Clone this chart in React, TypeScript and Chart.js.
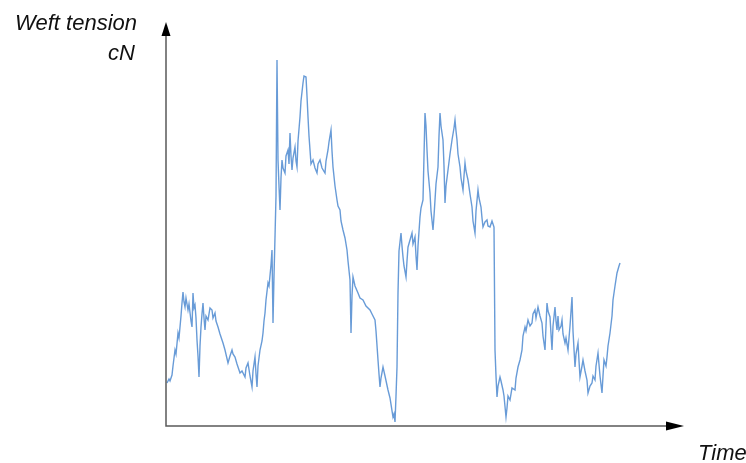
import React, { useEffect, useRef } from "react";
import { Chart, registerables } from "chart.js";

Chart.register(...registerables);

// Time (arbitrary units) and weft tension (arbitrary cN units)
const timeValues: number[] = [
  1, 3, 4, 6, 7, 9, 10, 12, 13, 15,
  16, 17, 18, 19, 20, 22, 23, 25, 26, 27,
  28, 29, 30, 31, 32, 33, 34, 35, 36, 37,
  38, 39, 40, 42, 44, 46, 47, 49, 50, 52,
  54, 57, 59, 62, 64, 66, 67, 69, 71, 74,
  76, 79, 80, 82, 84, 86, 87, 89, 90, 91,
  92, 94, 96, 97, 98, 99, 100, 102, 103, 105,
  106, 107, 108, 109, 110, 111, 112, 113, 114, 115,
  116, 117, 119, 120, 122, 123, 124, 125, 126, 127,
  129, 130, 131, 132, 134, 135, 137, 138, 140, 141,
  142, 143, 144, 145, 147, 149, 151, 152, 154, 156,
  159, 160, 162, 163, 165, 166, 167, 169, 171, 172,
  174, 175, 177, 179, 181, 182, 184, 185, 186, 187,
  189, 192, 194, 197, 200, 204, 206, 209, 210, 212,
  213, 214, 215, 217, 219, 222, 224, 227, 228, 229,
  230, 231, 232, 233, 235, 236, 237, 238, 240, 241,
  242, 244, 246, 247, 249, 250, 251, 252, 254, 255,
  257, 258, 259, 260, 261, 262, 264, 265, 267, 268,
  269, 270, 272, 273, 274, 275, 277, 278, 279, 280,
  282, 284, 286, 288, 289, 290, 291, 292, 294, 295,
  297, 298, 299, 300, 302, 304, 306, 307, 309, 310,
  312, 313, 315, 316, 317, 319, 321, 322, 324, 326,
  328, 329, 330, 331, 332, 334, 335, 337, 338, 340,
  341, 342, 344, 346, 349, 350, 352, 354, 356, 357,
  359, 360, 362, 364, 366, 367, 369, 370, 372, 374,
  376, 377, 379, 380, 381, 382, 384, 385, 386, 387,
  389, 390, 391, 392, 393, 395, 396, 397, 399, 400,
  402, 404, 406, 407, 409, 410, 412, 413, 414, 416,
  417, 419, 421, 422, 424, 426, 427, 429, 430, 432,
  434, 436, 437, 438, 440, 441, 442, 444, 446, 447,
  449, 451, 453, 454,
];
const tensionValues: number[] = [
  43, 47, 45, 51, 60, 76, 72, 93, 88, 110,
  123, 134, 124, 119, 128, 116, 122, 105, 99, 133,
  118, 121, 108, 86, 70, 49, 80, 99, 112, 123,
  108, 96, 110, 106, 118, 116, 108, 113, 105, 99,
  92, 83, 76, 63, 70, 76, 72, 69, 62, 53,
  55, 49, 58, 63, 50, 39, 55, 69, 52, 39,
  60, 76, 85, 93, 105, 113, 126, 143, 140, 161,
  176, 103, 150, 189, 230, 366, 266, 240, 216, 248,
  266, 258, 253, 270, 276, 262, 293, 270, 256, 268,
  279, 265, 259, 285, 309, 325, 343, 350, 349, 330,
  309, 290, 276, 262, 266, 258, 253, 262, 266, 258,
  253, 265, 276, 284, 296, 275, 259, 240, 226, 220,
  216, 205, 196, 188, 176, 165, 146, 93, 130, 149,
  140, 133, 128, 126, 120, 116, 112, 106, 95, 66,
  52, 39, 48, 59, 50, 36, 28, 9, 12, 4,
  30, 59, 133, 175, 193, 180, 169, 160, 149, 165,
  179, 186, 193, 182, 189, 170, 156, 180, 209, 218,
  226, 270, 313, 300, 276, 255, 233, 215, 196, 210,
  226, 242, 259, 290, 313, 300, 286, 260, 223, 240,
  256, 272, 286, 298, 306, 295, 286, 272, 259, 248,
  236, 250, 263, 255, 246, 232, 219, 205, 193, 215,
  236, 228, 219, 208, 199, 204, 206, 200, 199, 205,
  199, 76, 50, 29, 40, 49, 45, 36, 30, 9,
  18, 30, 26, 38, 36, 48, 59, 66, 76, 90,
  99, 95, 106, 100, 103, 112, 116, 108, 119, 110,
  103, 90, 76, 100, 123, 115, 109, 92, 76, 100,
  119, 105, 96, 110, 96, 100, 106, 92, 83, 88,
  76, 100, 129, 95, 59, 72, 83, 65, 49, 60,
  66, 55, 46, 33, 40, 43, 50, 46, 60, 73,
  50, 33, 50, 66, 60, 69, 80, 93, 110, 126,
  140, 153, 160, 163,
];

const TIME_MAX = 517;
const TENSION_MAX = 402;

const axisArrows = {
  id: "axisArrows",
  afterDraw(chart: any) {
    const { ctx, chartArea } = chart;
    const { left, bottom, top, right } = chartArea;
    ctx.save();
    ctx.strokeStyle = "#5a5a5a";
    ctx.lineWidth = 1.5;
    ctx.beginPath();
    ctx.moveTo(left, top + 12);
    ctx.lineTo(left, bottom);
    ctx.lineTo(right - 16, bottom);
    ctx.stroke();
    ctx.fillStyle = "#000";
    ctx.beginPath();
    ctx.moveTo(left, top - 2);
    ctx.lineTo(left - 4.5, top + 12);
    ctx.lineTo(left + 4.5, top + 12);
    ctx.closePath();
    ctx.fill();
    ctx.beginPath();
    ctx.moveTo(right + 1, bottom);
    ctx.lineTo(right - 17, bottom - 4.5);
    ctx.lineTo(right - 17, bottom + 4.5);
    ctx.closePath();
    ctx.fill();
    ctx.fillStyle = "#111";
    ctx.font = "italic 22px 'Liberation Sans', Arial, sans-serif";
    ctx.textBaseline = "alphabetic";
    ctx.textAlign = "right";
    ctx.fillText("Weft tension", 137, 30);
    ctx.fillText("cN", 135, 60);
    ctx.textAlign = "left";
    ctx.fillText("Time", 698, 460);
    ctx.restore();
  },
};

export default function App() {
  const canvasRef = useRef<HTMLCanvasElement | null>(null);
  useEffect(() => {
    if (!canvasRef.current) return;
    const points = timeValues.map((t, i) => ({ x: t, y: tensionValues[i] }));
    const chart = new Chart(canvasRef.current, {
      type: "line",
      data: {
        datasets: [
          {
            data: points,
            borderColor: "rgba(78,138,208,0.85)",
            borderWidth: 1.4,
            pointRadius: 0,
            tension: 0,
            fill: false,
          },
        ],
      },
      options: {
        animation: false,
        responsive: false,
        events: [],
        layout: { padding: { left: 166, right: 63, top: 24, bottom: 37 } },
        plugins: { legend: { display: false }, tooltip: { enabled: false } },
        scales: {
          x: { type: "linear", min: 0, max: TIME_MAX, display: false },
          y: { type: "linear", min: 0, max: TENSION_MAX, display: false },
        },
      },
      plugins: [axisArrows],
    });
    return () => chart.destroy();
  }, []);
  return (
    <div style={{ position: "absolute", left: 0, top: 0, width: 746, height: 463, background: "#fff" }}>
      <canvas ref={canvasRef} width={746} height={463} />
    </div>
  );
}
